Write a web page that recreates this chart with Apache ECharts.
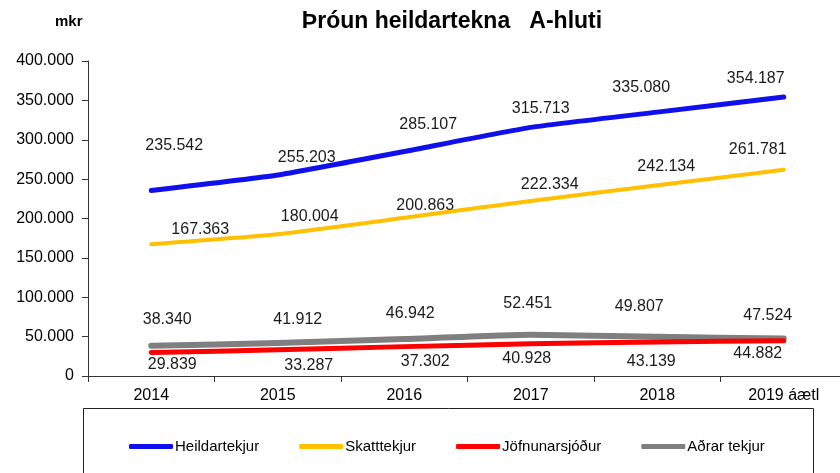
<!DOCTYPE html>
<html lang="is">
<head>
<meta charset="UTF-8">
<title>Þróun heildartekna A-hluti</title>
<script src="https://cdn.jsdelivr.net/npm/echarts@6/dist/echarts.min.js"></script>
<style>
  html, body { margin: 0; padding: 0; background: #fff; overflow: hidden; }
  #main { width: 850px; height: 473px; }
</style>
</head>
<body>
<div id="main"></div>
<script>
// data, mkr
var years = ['2014', '2015', '2016', '2017', '2018', '2019 áætl'];
var heildartekjur = [235542, 255203, 285107, 315713, 335080, 354187];
var skatttekjur = [167363, 180004, 200863, 222334, 242134, 261781];
var jofnunarsjodur = [29839, 33287, 37302, 40928, 43139, 44882];
var adrarTekjur = [38340, 41912, 46942, 52451, 49807, 47524];

// label placement as in the original (manually moved labels), [dx, dy]
var offBlue = [[23, -45], [29, -17], [24, -27], [10, -19], [-16, -25], [-28, -18]];
var offYellow = [[49, -15], [32, -18], [21, -12], [19, -16], [9, -19], [-26, -20]];
var offRed = [[21, 12], [31, 16], [21, 15], [-4, 15], [-6, 20], [-26, 13]];
var offGray = [[16, -26], [20, -23], [6, -25], [-3, -31], [-18, -30], [-16, -23]];

function fmt(v) {
  var s = String(Math.round(v));
  return s.replace(/\B(?=(\d{3})+(?!\d))/g, '.');
}

function withLabels(values, offs) {
  return values.map(function (v, i) {
    return { value: v, label: { offset: offs[i] } };
  });
}

function lineSeries(name, values, offs, color, width, z) {
  return {
    name: name,
    type: 'line',
    data: withLabels(values, offs),
    smooth: 0.15,
    symbol: 'circle',
    symbolSize: 0.1,
    showSymbol: true,
    z: z,
    itemStyle: { color: color },
    lineStyle: { color: color, width: width, cap: 'round', join: 'round' },
    label: {
      show: true,
      position: 'inside',
      align: 'center',
      verticalAlign: 'middle',
      color: '#1a1a1a',
      fontSize: 16,
      fontFamily: 'Liberation Sans',
      formatter: function (p) { return fmt(p.value); }
    },
    emphasis: { disabled: true }
  };
}

var chart = echarts.init(document.getElementById('main'));
chart.setOption({
  animation: false,
  backgroundColor: '#fff',
  title: {
    text: 'Þróun heildartekna   A-hluti',
    left: 447,
    textAlign: 'center',
    top: 5,
    textStyle: { fontFamily: 'Liberation Sans', fontWeight: 'bold', fontSize: 23, color: '#000' }
  },
  graphic: [
    {
      type: 'text',
      left: 55,
      top: 14,
      style: { text: 'mkr', font: 'bold 15px "Liberation Sans"', fill: '#000' }
    },
    {
      type: 'rect',
      shape: { x: 83.5, y: 408.5, width: 730, height: 80 },
      style: { fill: 'none', stroke: '#222', lineWidth: 1 },
      z: -1
    }
  ],
  legend: {
    left: 124,
    top: 434,
    data: ['Heildartekjur', 'Skatttekjur', 'Jöfnunarsjóður', 'Aðrar tekjur'],
    icon: 'roundRect',
    itemWidth: 44,
    itemHeight: 5,
    itemGap: 40,
    textStyle: { fontFamily: 'Liberation Sans', fontSize: 15, color: '#000', padding: [0, 0, 0, -3] }
  },
  grid: { left: 88, right: 3, top: 61, bottom: 97, containLabel: false },
  xAxis: {
    type: 'category',
    data: years,
    boundaryGap: true,
    axisLine: { lineStyle: { color: '#333', width: 1 } },
    axisTick: { show: true, length: 6, inside: false, lineStyle: { color: '#333' } },
    axisLabel: { color: '#000', fontSize: 16, fontFamily: 'Liberation Sans', margin: 12, interval: 0 },
    splitLine: { show: false }
  },
  yAxis: {
    type: 'value',
    min: 0,
    max: 400000,
    interval: 50000,
    axisLine: { show: true, lineStyle: { color: '#333', width: 1 } },
    axisTick: { show: true, length: 6, lineStyle: { color: '#333' } },
    axisLabel: {
      color: '#000', fontSize: 16, fontFamily: 'Liberation Sans', margin: 14,
      formatter: function (v) { return fmt(v); }
    },
    splitLine: { show: false }
  },
  series: [
    lineSeries('Heildartekjur', heildartekjur, offBlue, '#1010ee', 5, 5),
    lineSeries('Skatttekjur', skatttekjur, offYellow, '#ffc000', 4, 4),
    lineSeries('Aðrar tekjur', adrarTekjur, offGray, '#7f7f7f', 6, 2),
    lineSeries('Jöfnunarsjóður', jofnunarsjodur, offRed, '#ff0000', 5, 3)
  ]
});
</script>
</body>
</html>
